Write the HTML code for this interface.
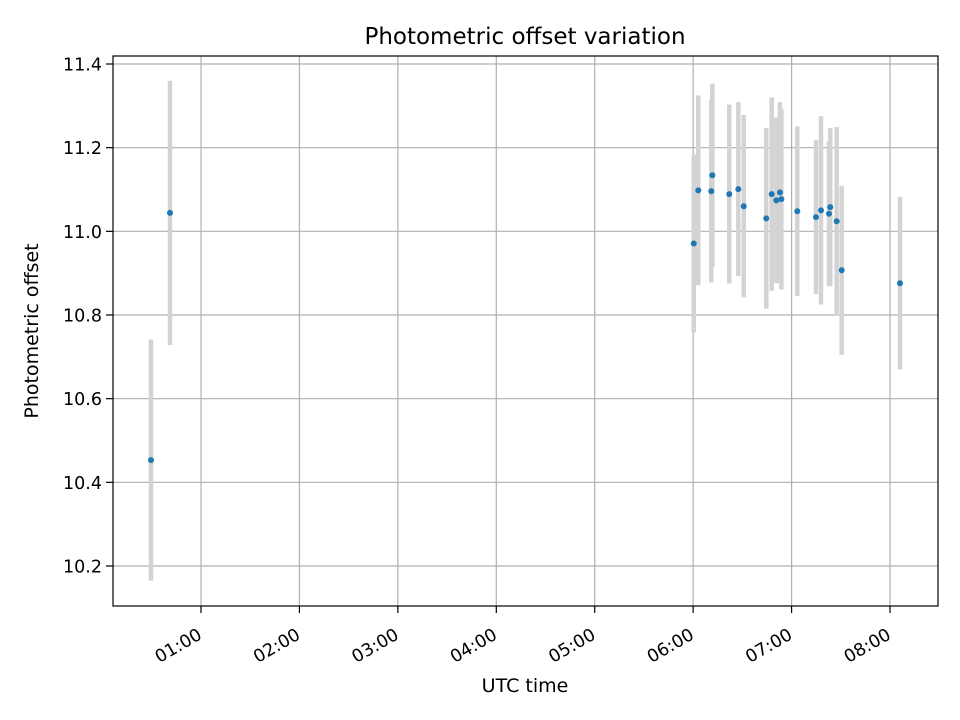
<!DOCTYPE html>
<html><head><meta charset="utf-8"><style>
body{margin:0;background:#fff;}
svg{display:block;font-family:"DejaVu Sans","Liberation Sans",sans-serif;}
</style></head><body>
<svg id="chart" width="960" height="720" viewBox="0 0 960 720" xmlns="http://www.w3.org/2000/svg">
<rect x="0" y="0" width="960" height="720" fill="#fff"/>
<g id="grid"></g>
<g id="bars"></g>
<g id="points"></g>
<rect x="113" y="56" width="825" height="550" fill="none" stroke="#000" stroke-width="1.2"/>
<g id="axes"></g>
<text x="525" y="44" text-anchor="middle" font-size="23">Photometric offset variation</text>
<text x="525" y="692" text-anchor="middle" font-size="19">UTC time</text>
<text transform="translate(38,331) rotate(-90)" text-anchor="middle" font-size="19">Photometric offset</text>
</svg>
<script>
const times = [0.492,0.685,6.006,6.052,6.195,6.184,6.367,6.459,6.514,6.743,6.798,6.845,6.882,6.896,7.058,7.248,7.299,7.380,7.393,7.458,7.509,8.101];
const offsets = [10.453,11.044,10.971,11.098,11.134,11.096,11.089,11.101,11.060,11.031,11.089,11.074,11.093,11.077,11.048,11.034,11.050,11.042,11.058,11.024,10.907,10.876];
const errors = [0.288,0.316,0.213,0.227,0.219,0.218,0.214,0.208,0.218,0.216,0.231,0.198,0.216,0.216,0.203,0.184,0.225,0.173,0.189,0.225,0.202,0.206];
const xTicks = [1,2,3,4,5,6,7,8];
const xTickLabels = ["01:00","02:00","03:00","04:00","05:00","06:00","07:00","08:00"];
const yTicks = [10.2,10.4,10.6,10.8,11.0,11.2,11.4];
const yTickLabels = ["10.2","10.4","10.6","10.8","11.0","11.2","11.4"];

const NS="http://www.w3.org/2000/svg";
const L=113,R=938,T=56,B=606;
function xs(h){return 201+(h-1)*98.43;}
function ys(v){return 566-(v-10.2)*418.33;}
function mk(tag,attrs,parent){const e=document.createElementNS(NS,tag);for(const k in attrs)e.setAttribute(k,attrs[k]);parent.appendChild(e);return e;}
const grid=document.getElementById('grid'),axes=document.getElementById('axes'),bars=document.getElementById('bars'),pts=document.getElementById('points');
xTicks.forEach((t,i)=>{
  const x=xs(t);
  const g=mk('line',{x1:x,x2:x,y1:T,y2:B,stroke:'#b0b0b0','stroke-width':1.2},grid);
  
  
  const tk=mk('line',{x1:x,x2:x,y1:B,y2:B+7,stroke:'#000','stroke-width':1.2},axes);
  
  
  const tx=mk('text',{transform:`translate(${x+2},${B+32}) rotate(-30)`,'text-anchor':'end','font-size':17.5},axes);
  tx.textContent=xTickLabels[i];
  
  
});
yTicks.forEach((t,i)=>{
  const y=ys(t);
  const g=mk('line',{x1:L,x2:R,y1:y,y2:y,stroke:'#b0b0b0','stroke-width':1.2},grid);
  
  
  const tk=mk('line',{x1:L-7,x2:L,y1:y,y2:y,stroke:'#000','stroke-width':1.2},axes);
  
  
  const tx=mk('text',{x:L-11,y:y+6.5,'text-anchor':'end','font-size':17.5},axes);
  tx.textContent=yTickLabels[i];
  
  
});
times.forEach((t,i)=>{
  const x=xs(t);
  const b=mk('line',{x1:x,x2:x,y1:ys(offsets[i]-errors[i]),y2:ys(offsets[i]+errors[i]),stroke:'#d3d3d3','stroke-width':4.5},bars);
  
  
});
times.forEach((t,i)=>{
  const c=mk('circle',{cx:xs(t),cy:ys(offsets[i]),r:3,fill:'#1f77b4'},pts);
  
  
});
</script>
</body></html>
